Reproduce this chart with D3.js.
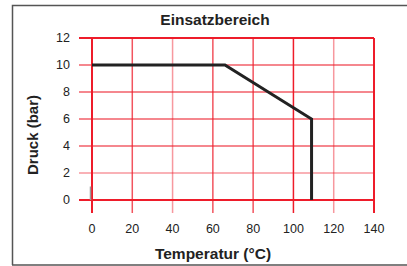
<!DOCTYPE html>
<html>
<head>
<script src="https://d3js.org/d3.v7.min.js"></script>
<style>
  body { margin: 0; background: #fff; font-family: "Liberation Sans", Arial, sans-serif; }
</style>
</head>
<body>
<script>
var width = 407, height = 266;

// data
var xTicks = [0, 20, 40, 60, 80, 100, 120, 140];
var yTicks = [0, 2, 4, 6, 8, 10, 12];
var tempC = [0, 66, 109, 109];
var druckBar = [10, 10, 6, 0];

var svg = d3.select("body").append("svg")
  .attr("width", width)
  .attr("height", height);

// outer frame
svg.append("path")
  .attr("d", "M12.5," + (height - 1) + " V5.5 H" + width)
  .attr("fill", "none").attr("stroke", "#555").attr("stroke-width", 1.5);
svg.append("line")
  .attr("x1", 12).attr("x2", width).attr("y1", 265).attr("y2", 265)
  .attr("stroke", "#555").attr("stroke-width", 1.5);

var x = d3.scaleLinear().domain([0, 140]).range([92, 374]);
var y = d3.scaleLinear().domain([0, 12]).range([200, 38]);

var red = "#ee1c2a";

// grid
svg.append("g").selectAll("line")
  .data(yTicks)
  .enter().append("line")
  .attr("x1", 79).attr("x2", x(140))
  .attr("y1", function(d) { return y(d); })
  .attr("y2", function(d) { return y(d); })
  .attr("stroke", red)
  .attr("stroke-width", function(d) { return (d == 0 || d == 12) ? 2 : 1.5; })
  .attr("opacity", function(d) { return (d == 0 || d == 12) ? 1 : (d == 2 ? 0.45 : 0.7); });

svg.append("g").selectAll("line")
  .data(xTicks)
  .enter().append("line")
  .attr("x1", function(d) { return x(d); })
  .attr("x2", function(d) { return x(d); })
  .attr("y1", y(12)).attr("y2", 213)
  .attr("stroke", red)
  .attr("stroke-width", function(d) { return (d == 0 || d == 140) ? 2 : 1.5; })
  .attr("opacity", function(d) { return (d == 0 || d == 140 || d == 100) ? 1 : (d == 40 || d == 120 ? 0.45 : 0.75); });

// small grey mark at origin
svg.append("line")
  .attr("x1", x(0) - 1.5).attr("x2", x(0) - 1.5)
  .attr("y1", y(1)).attr("y2", y(0))
  .attr("stroke", "#999").attr("stroke-width", 1.5);

// tick labels
svg.append("g").selectAll("text")
  .data(yTicks)
  .enter().append("text")
  .attr("x", 70)
  .attr("y", function(d) { return y(d); })
  .attr("dy", "0.35em")
  .attr("text-anchor", "end")
  .attr("font-size", 12.5)
  .attr("fill", "#222")
  .text(function(d) { return d; });

svg.append("g").selectAll("text")
  .data(xTicks)
  .enter().append("text")
  .attr("x", function(d) { return x(d); })
  .attr("y", 229)
  .attr("dy", "0.35em")
  .attr("text-anchor", "middle")
  .attr("font-size", 12.5)
  .attr("fill", "#222")
  .text(function(d) { return d; });

// operating range line
var line = d3.line()
  .x(function(d, i) { return x(tempC[i]); })
  .y(function(d, i) { return y(druckBar[i]); });

svg.append("path")
  .datum(tempC)
  .attr("d", line)
  .attr("fill", "none")
  .attr("stroke", "#222")
  .attr("stroke-width", 3);

// titles
svg.append("text")
  .attr("x", 215).attr("y", 20)
  .attr("dy", "0.35em")
  .attr("text-anchor", "middle")
  .attr("font-size", 15.5).attr("font-weight", "bold")
  .attr("fill", "#222")
  .text("Einsatzbereich");

svg.append("text")
  .attr("x", 213).attr("y", 254)
  .attr("dy", "0.35em")
  .attr("text-anchor", "middle")
  .attr("font-size", 15.5).attr("font-weight", "bold")
  .attr("fill", "#222")
  .text("Temperatur (°C)");

svg.append("text")
  .attr("transform", "translate(33,135) rotate(-90)")
  .attr("dy", "0.35em")
  .attr("text-anchor", "middle")
  .attr("font-size", 15).attr("font-weight", "bold")
  .attr("fill", "#222")
  .text("Druck (bar)");
</script>
</body>
</html>
